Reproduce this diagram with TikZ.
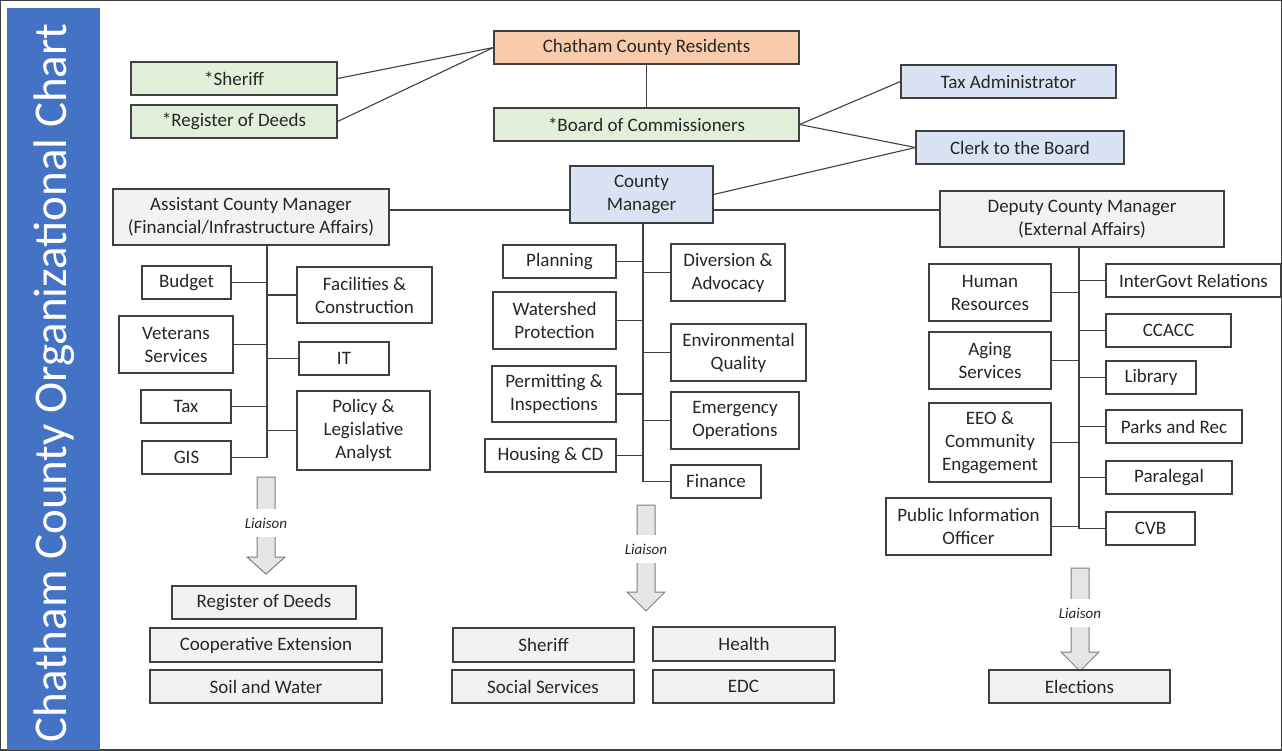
\documentclass[tikz,border=0pt]{standalone}
\usepackage{fontspec}
\setmainfont{Carlito}
\definecolor{cOrange}{HTML}{F8CBAD}
\definecolor{cGreen}{HTML}{E2EFDA}
\definecolor{cBlue}{HTML}{DAE3F3}
\definecolor{cGray}{HTML}{F2F2F2}
\definecolor{cBar}{HTML}{4472C4}
\definecolor{cLine}{HTML}{404040}
\definecolor{cArrow}{HTML}{E7E6E6}
\definecolor{cArrowLine}{HTML}{7F7F7F}
\newcommand\orgbox[7]{%
  \pgfmathsetmacro\obw{#4-#2}\pgfmathsetmacro\obh{#5-#3}%
  \pgfmathsetmacro\obx{(#2+#4)/2}\pgfmathsetmacro\oby{(#3+#5)/2}%
  \node[#6, minimum width=\obw pt, minimum height=\obh pt] (#1) at (\obx,\oby) {#7};}
\newcommand\liaisonarrow[6]{%
  % name, xc, ytop, yhead, ytip, ylabel
  \pgfmathsetmacro\la{#2-9}\pgfmathsetmacro\lb{#2+9}%
  \pgfmathsetmacro\lc{#2-19}\pgfmathsetmacro\ld{#2+19}%
  \draw[bigarrow] (\la,#3) -- (\lb,#3) -- (\lb,#4) -- (\ld,#4) -- (#2,#5) -- (\lc,#4) -- (\la,#4) -- cycle;
  \node[liaisonlabel] (#1) at (#2,#6) {Liaison};}
\begin{document}
\begin{tikzpicture}[x=1pt,y=-1pt,
  base/.style={draw=cLine, line width=1.1pt, inner sep=0pt, align=center,
    font=\fontsize{19}{23}\selectfont, text=black!85},
  orange/.style={base, fill=cOrange},
  green/.style={base, fill=cGreen},
  blue/.style={base, fill=cBlue},
  gray/.style={base, fill=cGray},
  white/.style={base, fill=white},
  conn/.style={draw=cLine, line width=1.1pt},
  bigarrow/.style={draw=cArrowLine, fill=cArrow, line width=1pt, line join=miter},
  liaisonlabel/.style={fill=white, inner sep=0pt, minimum height=28pt, minimum width=50pt,
    font=\fontsize{15}{17}\selectfont\itshape, text=black!85},
]
\useasboundingbox (0,0) rectangle (1282,750);
\fill[white] (0,0) rectangle (1282,750);

% title bar
\fill[cBar] (7,8) rectangle (100,750);
\node[rotate=90, text=white, font=\fontsize{47}{52}\selectfont, inner sep=0pt] (title) at (54,383) {Chatham County Organizational Chart};

% top level
\orgbox{res}{494}{31}{799}{64}{orange}{Chatham County Residents}
\orgbox{sher}{131}{62}{337}{95}{green}{*Sheriff}
\orgbox{rod}{131}{105}{337}{138}{green}{*Register of Deeds}
\orgbox{boc}{494}{108}{799}{141}{green}{*Board of Commissioners}
\orgbox{taxadm}{901}{65}{1116}{98}{blue}{Tax Administrator}
\orgbox{clerk}{916}{131}{1124}{164}{blue}{Clerk to the Board}
\orgbox{cm}{570}{166}{713}{223}{blue}{County\\Manager}
\orgbox{acm}{113}{189}{389}{245}{gray}{Assistant County Manager\\(Financial/Infrastructure Affairs)}
\orgbox{dcm}{940}{191}{1224}{247}{gray}{Deputy County Manager\\(External Affairs)}

\draw[conn] (sher.east) -- (res.west);
\draw[conn] (rod.east) -- (res.west);
\draw[conn] (res.south) -- (boc.north);
\draw[conn] (boc.east) -- (taxadm.west);
\draw[conn] (boc.east) -- (clerk.west);
\draw[conn] (cm.east) -- (clerk.west);
\coordinate (hl) at (0,210);
\draw[conn] (acm.east |- hl) -- (cm.west |- hl);
\draw[conn] (cm.east |- hl) -- (dcm.west |- hl);

% left branch
\orgbox{budget}{142}{266}{231}{299}{white}{Budget}
\orgbox{fac}{297}{267}{432}{323}{white}{Facilities \&\\Construction}
\orgbox{vet}{119}{316}{233}{373}{white}{Veterans\\Services}
\orgbox{it}{299}{342}{389}{375}{white}{IT}
\orgbox{tax}{141}{390}{231}{423}{white}{Tax}
\orgbox{policy}{297}{391}{430}{470}{white}{Policy \&\\Legislative\\Analyst}
\orgbox{gis}{142}{441}{231}{474}{white}{GIS}
\coordinate (ls) at (267,0);
\draw[conn] (acm.south -| ls) -- (ls |- gis.east);
\foreach \n in {budget,vet,tax,gis} \draw[conn] (\n.east) -- (\n.east -| ls);
\foreach \n in {fac,it,policy} \draw[conn] (\n.west) -- (\n.west -| ls);

\liaisonarrow{liaL}{266}{477}{557}{574}{523}
\orgbox{rod2}{172}{586}{356}{619}{gray}{Register of Deeds}
\orgbox{coop}{150}{628}{382}{662}{gray}{Cooperative Extension}
\orgbox{soil}{150}{670}{382}{703}{gray}{Soil and Water}

% middle branch
\orgbox{plan}{503}{245}{616}{278}{white}{Planning}
\orgbox{div}{671}{244}{785}{301}{white}{Diversion \&\\Advocacy}
\orgbox{wat}{493}{292}{616}{349}{white}{Watershed\\Protection}
\orgbox{env}{671}{324}{806}{381}{white}{Environmental\\Quality}
\orgbox{perm}{492}{366}{616}{422}{white}{Permitting \&\\Inspections}
\orgbox{emer}{671}{392}{799}{449}{white}{Emergency\\Operations}
\orgbox{hous}{485}{439}{616}{472}{white}{Housing \& CD}
\orgbox{fin}{671}{465}{761}{498}{white}{Finance}
\coordinate (ms) at (643,0);
\draw[conn] (cm.south -| ms) -- (ms |- fin.west);
\foreach \n in {plan,wat,perm,hous} \draw[conn] (\n.east) -- (\n.east -| ms);
\foreach \n in {div,env,emer,fin} \draw[conn] (\n.west) -- (\n.west -| ms);

\liaisonarrow{liaM}{646}{505}{592}{611}{549}
\orgbox{sher2}{453}{628}{634}{662}{gray}{Sheriff}
\orgbox{health}{653}{627}{835}{661}{gray}{Health}
\orgbox{soc}{452}{670}{634}{703}{gray}{Social Services}
\orgbox{edc}{653}{670}{834}{703}{gray}{EDC}

% right branch
\orgbox{hr}{929}{264}{1051}{321}{white}{Human\\Resources}
\orgbox{igr}{1106}{264}{1281}{297}{white}{InterGovt Relations}
\orgbox{ccacc}{1106}{314}{1231}{347}{white}{CCACC}
\orgbox{aging}{929}{332}{1051}{389}{white}{Aging\\Services}
\orgbox{lib}{1106}{361}{1196}{394}{white}{Library}
\orgbox{eeo}{929}{403}{1051}{482}{white}{EEO \&\\Community\\Engagement}
\orgbox{parks}{1106}{410}{1242}{443}{white}{Parks and Rec}
\orgbox{para}{1106}{461}{1232}{494}{white}{Paralegal}
\orgbox{pio}{886}{498}{1051}{555}{white}{Public Information\\Officer}
\orgbox{cvb}{1106}{512}{1195}{545}{white}{CVB}
\coordinate (rs) at (1079,0);
\draw[conn] (dcm.south -| rs) -- (rs |- cvb.west);
\foreach \n in {hr,aging,eeo,pio} \draw[conn] (\n.east) -- (\n.east -| rs);
\foreach \n in {igr,ccacc,lib,parks,para,cvb} \draw[conn] (\n.west) -- (\n.west -| rs);

\liaisonarrow{liaR}{1080}{568}{652}{671}{613}
\orgbox{elect}{989}{670}{1170}{703}{gray}{Elections}
\end{tikzpicture}
\end{document}
